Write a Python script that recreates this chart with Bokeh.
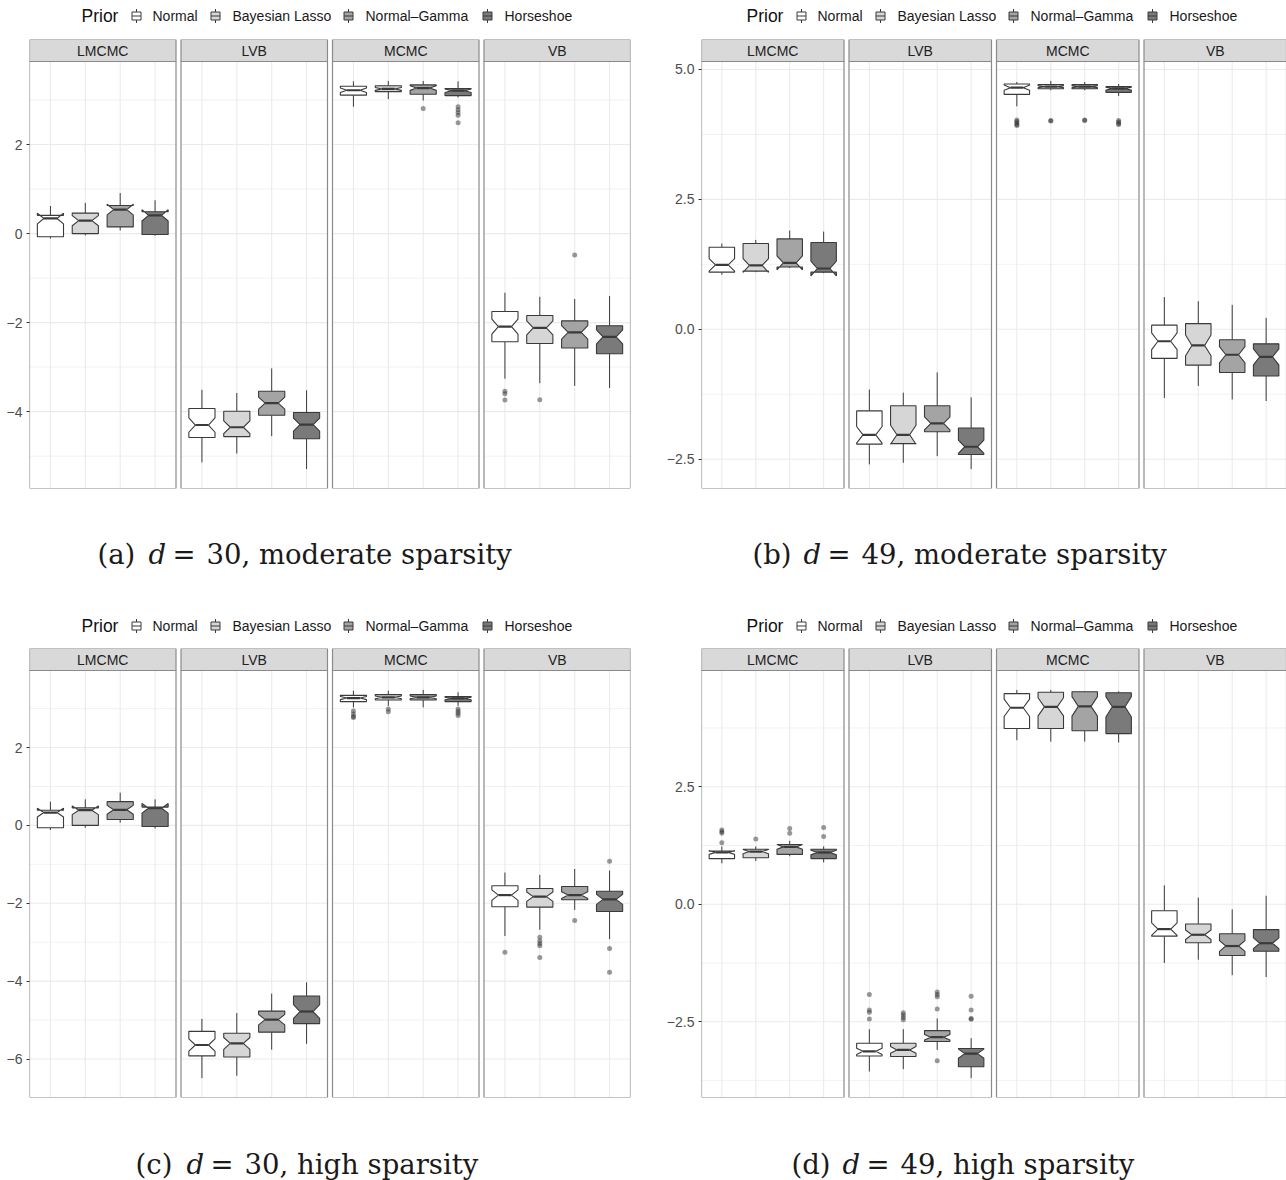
import math

from bokeh.core.properties import value
from bokeh.embed import file_html
from bokeh.layouts import column, row
from bokeh.models import FixedTicker, Range1d
from bokeh.plotting import figure
from bokeh.resources import INLINE

# ---------------------------------------------------------------- data
METHODS = ["LMCMC", "LVB", "MCMC", "VB"]
PRIORS = ["Normal", "Bayesian Lasso", "Normal\u2013Gamma", "Horseshoe"]
PRIOR_FILLS = ["#FFFFFF", "#D6D6D6", "#A4A4A4", "#7A7A7A"]
N_REPS = 40  # replications behind each box (used for the notches)

# Box statistics, ordered method-major (LMCMC, LVB, MCMC, VB), prior-minor.
# (a) d = 30, moderate sparsity
A_WHI = [0.62, 0.69, 0.91, 0.75, -3.51, -3.58, -3.03, -3.52, 3.42, 3.43, 3.43, 3.42, -1.33, -1.42, -1.47, -1.40]
A_Q3 = [0.41, 0.46, 0.63, 0.49, -3.93, -3.99, -3.54, -4.02, 3.31, 3.32, 3.34, 3.26, -1.75, -1.84, -1.96, -2.07]
A_MED = [0.34, 0.29, 0.54, 0.41, -4.30, -4.35, -3.81, -4.29, 3.22, 3.25, 3.27, 3.21, -2.09, -2.12, -2.22, -2.32]
A_Q1 = [-0.07, 0.00, 0.15, -0.02, -4.58, -4.56, -4.08, -4.61, 3.11, 3.19, 3.13, 3.10, -2.43, -2.47, -2.57, -2.70]
A_WLO = [-0.11, -0.04, 0.07, -0.05, -5.14, -4.94, -4.55, -5.29, 2.85, 3.02, 2.99, 3.06, -3.26, -3.36, -3.42, -3.47]
A_OUTLIERS = [
    ("MCMC", 2, [2.81]),
    ("MCMC", 3, [2.85, 2.78, 2.72, 2.66, 2.49]),
    ("VB", 0, [-3.54, -3.60, -3.74]),
    ("VB", 1, [-3.73]),
    ("VB", 2, [-0.48]),
]
A_TICKS = [-4, -2, 0, 2]
A_TICK_LABELS = ["\u22124", "\u22122", "0", "2"]

# (b) d = 49, moderate sparsity
B_WHI = [1.65, 1.72, 1.90, 1.88, -1.16, -1.22, -0.83, -1.31, 4.76, 4.78, 4.76, 4.72, 0.62, 0.54, 0.47, 0.22]
B_Q3 = [1.58, 1.65, 1.74, 1.67, -1.57, -1.47, -1.47, -1.90, 4.72, 4.71, 4.71, 4.67, 0.08, 0.11, -0.20, -0.28]
B_MED = [1.24, 1.23, 1.28, 1.17, -2.03, -2.03, -1.81, -2.26, 4.65, 4.67, 4.67, 4.63, -0.23, -0.31, -0.49, -0.53]
B_Q1 = [1.10, 1.12, 1.20, 1.10, -2.21, -2.20, -1.97, -2.41, 4.52, 4.63, 4.63, 4.56, -0.56, -0.69, -0.83, -0.90]
B_WLO = [1.05, 1.10, 1.18, 1.08, -2.60, -2.57, -2.44, -2.69, 4.29, 4.60, 4.60, 4.49, -1.32, -1.09, -1.35, -1.38]
B_OUTLIERS = [
    ("MCMC", 0, [4.03, 4.00, 3.97, 3.94, 3.92]),
    ("MCMC", 1, [4.02, 4.01]),
    ("MCMC", 2, [4.03, 4.02]),
    ("MCMC", 3, [4.02, 3.99, 3.96, 3.94]),
]
B_TICKS = [-2.5, 0.0, 2.5, 5.0]
B_TICK_LABELS = ["\u22122.5", "0.0", "2.5", "5.0"]

# (c) d = 30, high sparsity
C_WHI = [0.61, 0.67, 0.84, 0.67, -4.97, -4.82, -4.32, -4.03, 3.46, 3.46, 3.48, 3.42, -1.21, -1.27, -1.12, -1.16]
C_Q3 = [0.39, 0.45, 0.61, 0.47, -5.29, -5.34, -4.77, -4.38, 3.34, 3.36, 3.36, 3.31, -1.55, -1.62, -1.57, -1.69]
C_MED = [0.33, 0.39, 0.40, 0.44, -5.64, -5.60, -4.99, -4.78, 3.27, 3.29, 3.29, 3.26, -1.79, -1.83, -1.79, -1.90]
C_Q1 = [-0.06, 0.00, 0.15, -0.03, -5.92, -5.95, -5.31, -5.09, 3.18, 3.22, 3.22, 3.18, -2.09, -2.10, -1.91, -2.21]
C_WLO = [-0.12, -0.06, 0.07, -0.08, -6.49, -6.43, -5.76, -5.61, 3.03, 3.07, 3.03, 3.07, -2.84, -2.68, -2.17, -2.92]
C_OUTLIERS = [
    ("MCMC", 0, [2.94, 2.86, 2.80, 2.77]),
    ("MCMC", 1, [2.99, 2.92]),
    ("MCMC", 3, [2.99, 2.93, 2.88, 2.82]),
    ("VB", 0, [-3.26]),
    ("VB", 1, [-2.87, -2.97, -3.03, -3.09, -3.39]),
    ("VB", 2, [-2.44]),
    ("VB", 3, [-0.92, -3.16, -3.77]),
]
C_TICKS = [-6, -4, -2, 0, 2]
C_TICK_LABELS = ["\u22126", "\u22124", "\u22122", "0", "2"]

# (d) d = 49, high sparsity
D_WHI = [1.23, 1.23, 1.35, 1.23, -2.66, -2.66, -2.43, -2.85, 4.56, 4.56, 4.53, 4.53, 0.40, 0.14, -0.11, 0.18]
D_Q3 = [1.13, 1.17, 1.27, 1.17, -2.96, -2.96, -2.69, -3.07, 4.48, 4.51, 4.52, 4.50, -0.14, -0.42, -0.63, -0.54]
D_MED = [1.10, 1.12, 1.22, 1.10, -3.13, -3.10, -2.83, -3.18, 4.18, 4.20, 4.21, 4.20, -0.53, -0.65, -0.89, -0.83]
D_Q1 = [0.97, 0.99, 1.06, 0.97, -3.23, -3.24, -2.92, -3.46, 3.74, 3.74, 3.69, 3.63, -0.68, -0.82, -1.09, -1.00]
D_WLO = [0.87, 0.92, 1.02, 0.89, -3.56, -3.51, -3.10, -3.70, 3.49, 3.46, 3.46, 3.44, -1.25, -1.18, -1.51, -1.55]
D_OUTLIERS = [
    ("LMCMC", 0, [1.58, 1.54, 1.51, 1.31]),
    ("LMCMC", 1, [1.39]),
    ("LMCMC", 2, [1.61, 1.51]),
    ("LMCMC", 3, [1.63, 1.44]),
    ("LVB", 0, [-1.92, -2.25, -2.30, -2.44]),
    ("LVB", 1, [-2.31, -2.36, -2.41, -2.46]),
    ("LVB", 2, [-1.87, -1.92, -1.97, -2.23, -3.33]),
    ("LVB", 3, [-1.96, -2.25, -2.43, -2.45]),
]
D_TICKS = [-2.5, 0.0, 2.5]
D_TICK_LABELS = ["\u22122.5", "0.0", "2.5"]

# ---------------------------------------------------------------- style
SANS = "Liberation Sans"
SERIF = "DejaVu Serif"
GRID_COLOR = "#EBEBEB"
MINOR_GRID_COLOR = "#F0F0F0"
BORDER_COLOR = "#8A8A8A"
STRIP_FILL = "#D9D9D9"
BOX_LINE = "#3A3A3A"
BOX_WIDTH = 0.75
NOTCH_WIDTH = 0.5
FRAME_H = 449
STRIP_H = 22
GAP_PX = 5


def page_strip(width, height, frame_left, frame_w):
    """A figure whose data units are pixels, sharing the frame of the panel below."""
    f = figure(frame_width=frame_w, frame_height=height,
               min_border_left=frame_left, min_border_right=width - frame_left - frame_w,
               min_border_top=0, min_border_bottom=0,
               x_range=Range1d(frame_left, frame_left + frame_w), y_range=Range1d(0, height),
               toolbar_location=None, output_backend="svg", x_axis_type=None, y_axis_type=None)
    f.outline_line_color = None
    f.grid.visible = False
    f.background_fill_color = "white"
    f.border_fill_color = "white"
    return f


def legend_figure(width, frame_left, frame_w, x0):
    lf = page_strip(width, 30, frame_left, frame_w)
    cy = 14.5
    lf.text(x=[x0], y=[cy], text=["Prior"], text_font=value(SANS), text_font_size="17.5px",
            text_baseline="middle", text_align="left", text_color="#111111")
    icon_dx = [55, 134, 267, 406]
    label_dx = [71, 151, 284, 423]
    cx = [x0 + d for d in icon_dx]
    lf.segment(x0=cx, y0=[cy + 4] * 4, x1=cx, y1=[cy + 7] * 4, line_color=BOX_LINE, line_width=1)
    lf.segment(x0=cx, y0=[cy - 4] * 4, x1=cx, y1=[cy - 7] * 4, line_color=BOX_LINE, line_width=1)
    lf.quad(left=[c - 4.5 for c in cx], right=[c + 4.5 for c in cx], bottom=[cy - 4] * 4, top=[cy + 4] * 4,
            fill_color=PRIOR_FILLS, line_color=BOX_LINE, line_width=1)
    lf.segment(x0=[c - 4.5 for c in cx], y0=[cy] * 4, x1=[c + 4.5 for c in cx], y1=[cy] * 4,
               line_color=BOX_LINE, line_width=1.2)
    lf.text(x=[x0 + d for d in label_dx], y=[cy] * 4, text=PRIORS, text_font=value(SANS),
            text_font_size="14px", text_baseline="middle", text_align="left", text_color="#1A1A1A")
    return lf


def caption_figure(width, height, frame_left, frame_w, x0, tag, dval, sparsity):
    cf = page_strip(width, height, frame_left, frame_w)
    base = height - 53
    style = dict(text_font=value(SERIF), text_font_size="27.5px", text_baseline="alphabetic",
                 text_color="#1A1A1A")
    cf.text(x=[x0], y=[base], text=[f"({tag})"], **style)
    cf.text(x=[x0 + 51], y=[base], text=["d"], text_font_style="italic", **style)
    cf.text(x=[x0 + 75], y=[base], text=["="], **style)
    cf.text(x=[x0 + 109], y=[base], text=[f"{dval}, {sparsity} sparsity"], **style)
    return cf


def main_figure(width, frame_left, frame_w, top, bottom, whi, q3, med, q1, wlo, outliers, ticks, tick_labels):
    # y limits: data extent widened by 5% on each side
    vals = list(whi) + list(wlo) + [v for _, _, vs in outliers for v in vs]
    lo, hi = min(vals), max(vals)
    pad = 0.05 * (hi - lo)
    ylo, yhi = lo - pad, hi + pad
    y_per_px = (yhi - ylo) / (FRAME_H - STRIP_H)
    strip_top = yhi + STRIP_H * y_per_px

    # each facet spans 0.4..4.6 on its own discrete axis, panels separated by a small gap
    facet_px = (frame_w - 3 * GAP_PX) / 4
    x_per_px = 4.2 / facet_px
    step = 4.2 + GAP_PX * x_per_px
    offs = [k * step for k in range(len(METHODS))]

    p = figure(frame_width=frame_w, frame_height=FRAME_H,
               min_border_left=frame_left, min_border_right=width - frame_left - frame_w,
               min_border_top=top, min_border_bottom=bottom,
               x_range=Range1d(0.4, offs[-1] + 4.6), y_range=Range1d(ylo, strip_top),
               toolbar_location=None, output_backend="svg", x_axis_type=None)
    p.grid.visible = False
    p.outline_line_color = None
    p.background_fill_color = "white"
    p.border_fill_color = "white"

    # grid lines inside each facet
    tstep = ticks[1] - ticks[0]
    minors = [t + tstep / 2 for t in [ticks[0] - tstep] + list(ticks)]
    minors = [m for m in minors if ylo < m < yhi]
    majors = [t for t in ticks if ylo < t < yhi]
    for off in offs:
        xl, xr = off + 0.4, off + 4.6
        p.segment(x0=[xl] * len(minors), y0=minors, x1=[xr] * len(minors), y1=minors,
                  line_color=MINOR_GRID_COLOR, line_width=0.9)
        p.segment(x0=[xl] * len(majors), y0=majors, x1=[xr] * len(majors), y1=majors,
                  line_color=GRID_COLOR, line_width=1.1)
        xs = [off + j + 1 for j in range(len(PRIORS))]
        p.segment(x0=xs, y0=[ylo] * len(xs), x1=xs, y1=[yhi] * len(xs),
                  line_color=GRID_COLOR, line_width=1.1)

    # strips and facet borders
    p.quad(left=[o + 0.4 for o in offs], right=[o + 4.6 for o in offs], bottom=[yhi] * 4, top=[strip_top] * 4,
           fill_color=STRIP_FILL, line_color=BORDER_COLOR, line_width=1.2)
    p.text(x=[o + 2.5 for o in offs], y=[yhi + STRIP_H * y_per_px / 2] * 4, text=METHODS,
           text_font=value(SANS), text_font_size="14px", text_align="center", text_baseline="middle",
           text_color="#222222")
    p.quad(left=[o + 0.4 for o in offs], right=[o + 4.6 for o in offs], bottom=[ylo] * 4, top=[yhi] * 4,
           fill_color=None, line_color=BORDER_COLOR, line_width=1.2)

    # outliers
    ox, oy = [], []
    for method, j, vs in outliers:
        k = METHODS.index(method)
        ox += [offs[k] + j + 1] * len(vs)
        oy += vs
    p.scatter(x=ox, y=oy, size=5, fill_color="#333333", fill_alpha=0.5, line_color=None)

    # notched boxes
    hw = BOX_WIDTH / 2
    indent = (1 - NOTCH_WIDTH) * BOX_WIDTH / 2
    bx, by, fills, cx = [], [], [], []
    for k in range(len(METHODS)):
        for j in range(len(PRIORS)):
            i = k * len(PRIORS) + j
            c = offs[k] + j + 1
            notch = 1.58 * (q3[i] - q1[i]) / math.sqrt(N_REPS)
            nu, nl = med[i] + notch, med[i] - notch
            bx.append([c - hw, c - hw, c - hw + indent, c - hw, c - hw, c + hw, c + hw, c + hw - indent, c + hw, c + hw])
            by.append([q3[i], nu, med[i], nl, q1[i], q1[i], nl, med[i], nu, q3[i]])
            fills.append(PRIOR_FILLS[j])
            cx.append(c)
    p.segment(x0=cx, y0=q3, x1=cx, y1=whi, line_color=BOX_LINE, line_width=1)
    p.segment(x0=cx, y0=q1, x1=cx, y1=wlo, line_color=BOX_LINE, line_width=1)
    p.patches(xs=bx, ys=by, fill_color=fills, line_color=BOX_LINE, line_width=1.1)
    p.segment(x0=[c - hw + indent for c in cx], y0=med, x1=[c + hw - indent for c in cx], y1=med,
              line_color=BOX_LINE, line_width=2.2)

    # y axis
    ax = p.yaxis[0]
    ax.ticker = FixedTicker(ticks=list(ticks), minor_ticks=[])
    ax.major_label_overrides = {t: lab for t, lab in zip(ticks, tick_labels)}
    ax.axis_line_color = None
    ax.major_tick_line_color = "#333333"
    ax.major_tick_out = 3
    ax.major_tick_in = 0
    ax.minor_tick_line_color = None
    ax.major_label_standoff = 4
    ax.major_label_text_font = SANS
    ax.major_label_text_font_size = "14px"
    ax.major_label_text_color = "#4D4D4D"
    return p


def panel(side, row_pos, stats, outliers, ticks, tick_labels, tag, dval, sparsity, caption_x):
    width, frame_left, frame_w, legend_x = side
    top, bottom, cap_h = row_pos
    lf = legend_figure(width, frame_left, frame_w, legend_x)
    mf = main_figure(width, frame_left, frame_w, top, bottom, *stats, outliers, ticks, tick_labels)
    cf = caption_figure(width, cap_h, frame_left, frame_w, caption_x, tag, dval, sparsity)
    return column(lf, mf, cf)


LEFT = (640, 29, 601, 81)
RIGHT = (646, 61, 585, 106)
TOP_ROW = (9, 12, 110)
BOTTOM_ROW = (8, 13, 70)

pa = panel(LEFT, TOP_ROW, (A_WHI, A_Q3, A_MED, A_Q1, A_WLO), A_OUTLIERS, A_TICKS, A_TICK_LABELS,
           "a", 30, "moderate", 97)
pb = panel(RIGHT, TOP_ROW, (B_WHI, B_Q3, B_MED, B_Q1, B_WLO), B_OUTLIERS, B_TICKS, B_TICK_LABELS,
           "b", 49, "moderate", 112)
pc = panel(LEFT, BOTTOM_ROW, (C_WHI, C_Q3, C_MED, C_Q1, C_WLO), C_OUTLIERS, C_TICKS, C_TICK_LABELS,
           "c", 30, "high", 135)
pd = panel(RIGHT, BOTTOM_ROW, (D_WHI, D_Q3, D_MED, D_Q1, D_WLO), D_OUTLIERS, D_TICKS, D_TICK_LABELS,
           "d", 49, "high", 151)

page = column(row(pa, pb), row(pc, pd))

with open("out.html", "w") as fh:
    fh.write(file_html(page, INLINE, title="Prior comparison"))
